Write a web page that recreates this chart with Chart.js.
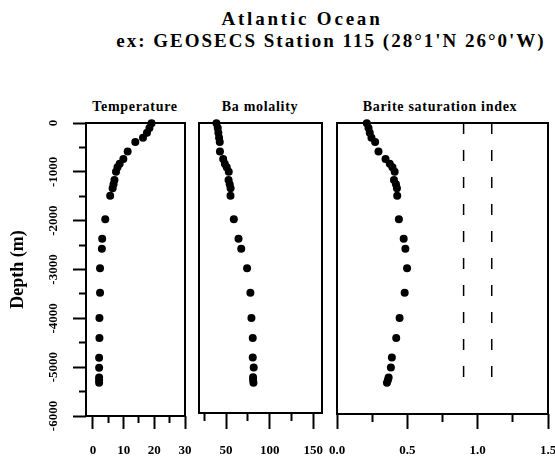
<!DOCTYPE html>
<html>
<head>
<meta charset="utf-8">
<script src="https://cdn.jsdelivr.net/npm/chart.js@4.4.1/dist/chart.umd.min.js"></script>
<style>
  html, body { margin: 0; padding: 0; background: #fff; }
  #page { position: relative; width: 555px; height: 457px; overflow: hidden;
          font-family: 'Liberation Serif', 'Times New Roman', serif; font-weight: bold; color: #000; }
  .txt { position: absolute; white-space: nowrap; text-align: center; }
  canvas { position: absolute; }
</style>
</head>
<body>
<div id="page">
  <div class="txt" style="left:102px;top:9px;width:400px;font-size:19px;line-height:19px;letter-spacing:2.8px">Atlantic Ocean</div>
  <div class="txt" style="left:31px;top:31px;width:600px;font-size:19px;line-height:19px;letter-spacing:2px">ex: GEOSECS Station 115 (28°1'N 26°0'W)</div>
  <div class="txt" style="left:35px;top:100px;width:200px;font-size:14px;line-height:14px;letter-spacing:0.7px">Temperature</div>
  <div class="txt" style="left:160px;top:100px;width:200px;font-size:14px;line-height:14px;letter-spacing:0.7px">Ba molality</div>
  <div class="txt" style="left:340px;top:100px;width:200px;font-size:14px;line-height:14px;letter-spacing:0.7px">Barite saturation index</div>
  <canvas id="cTemp" width="230" height="362" style="left:0px;top:100px"></canvas>
  <canvas id="cBa" width="180" height="362" style="left:170px;top:100px"></canvas>
  <canvas id="cSi" width="280" height="362" style="left:300px;top:100px"></canvas>
</div>
<script>
// sample depths (m), shared by the three profiles
const depth = [-5, -100, -200, -300, -390, -585, -735, -835, -905, -1000, -1165, -1255, -1335, -1490,
               -1970, -2370, -2575, -2975, -3475, -3995, -4405, -4805, -5010, -5210, -5265, -5320];
const temperature = [19.1, 18.4, 17.6, 16.3, 13.8, 11.3, 9.9, 8.7, 8.0, 7.5, 7.0, 6.7, 6.4, 5.6,
                     4.0, 3.0, 2.9, 2.3, 2.3, 2.1, 2.1, 2.0, 2.0, 2.0, 2.0, 2.0];
const baMolality = [39.0, 40.5, 41.2, 42.0, 42.8, 43.0, 46.7, 48.6, 50.8, 53.1, 52.9, 54.2, 55.2, 55.1,
                    58.9, 64.3, 67.4, 74.1, 77.9, 79.1, 80.6, 80.6, 81.7, 81.0, 81.0, 81.4];
const bariteSI = [0.212, 0.224, 0.233, 0.245, 0.271, 0.295, 0.345, 0.375, 0.394, 0.410, 0.405, 0.419, 0.426, 0.428,
                  0.440, 0.474, 0.486, 0.498, 0.481, 0.445, 0.421, 0.390, 0.383, 0.367, 0.362, 0.355];
// dashed saturation band
const saturationBounds = [0.9, 1.1];
const boundDepths = [0, -5300];

const depthTicks = [0, -500, -1000, -1500, -2000, -2500, -3000, -3500, -4000, -4500, -5000, -5500, -6000];
const depthLabels = [0, -1000, -2000, -3000, -4000, -5000, -6000];
const tempTicks = [0, 5, 10, 15, 20, 25, 30];
const tempLabels = [0, 10, 20, 30];
const baTicks = [25, 50, 75, 100, 125, 150];
const baLabels = [50, 100, 150];
const siTicks = [0, 0.25, 0.5, 0.75, 1, 1.25, 1.5];
const siLabels = [0, 0.5, 1, 1.5];

const family = "'Liberation Serif', 'Times New Roman', serif";
const tickFont = { family, size: 13, weight: 'bold' };

const framePlugin = {
    id: 'frame',
    beforeDatasetsDraw(chart) {
        const { ctx, chartArea: a } = chart;
        ctx.save();
        ctx.strokeStyle = '#000';
        ctx.lineWidth = 2;
        ctx.strokeRect(a.left, a.top, a.right - a.left, a.bottom - a.top);
        ctx.restore();
    }
};

function xAxis(min, max, ticks, labels, fmt, tickLen, minorLen) {
    return {
        type: 'linear', min, max,
        afterBuildTicks: s => { s.ticks = ticks.map(v => ({ value: v })); },
        afterFit: s => { s.height = 46; },
        border: { display: false },
        grid: {
            drawOnChartArea: false, tickLength: tickLen, tickWidth: 2, tickColor: '#000',
            tickBorderDash: c => labels.includes(c.tick.value) ? [] : [minorLen, 100]
        },
        ticks: {
            autoSkip: false, maxRotation: 0, padding: 14, color: '#000', font: tickFont,
            callback: v => labels.includes(v) ? fmt(v) : ''
        }
    };
}

function points(xs) {
    return xs.map((v, i) => ({ x: v, y: depth[i] }));
}

function dotSet(xs) {
    return {
        data: points(xs), pointRadius: 4, pointBackgroundColor: '#000',
        pointBorderWidth: 0, clip: false
    };
}

function makeChart(id, datasets, xScale, yScale, padding) {
    return new Chart(document.getElementById(id), {
        type: 'scatter',
        data: { datasets },
        options: {
            responsive: false, animation: false, events: [],
            layout: { padding },
            plugins: { legend: { display: false }, tooltip: { enabled: false } },
            scales: { x: xScale, y: yScale }
        },
        plugins: [framePlugin]
    });
}

makeChart('cTemp', [dotSet(temperature)],
    xAxis(-2.28, 30, tempTicks, tempLabels, v => String(v), 13, 7),
    {
        type: 'linear', min: -6000, max: 0,
        afterBuildTicks: s => { s.ticks = depthTicks.map(v => ({ value: v })); },
        afterFit: s => { s.width = 86; },
        border: { display: false },
        grid: {
            drawOnChartArea: false, tickLength: 13, tickWidth: 2, tickColor: '#000',
            tickBorderDash: c => depthLabels.includes(c.tick.value) ? [] : [0, 6, 7, 100]
        },
        ticks: {
            autoSkip: false, minRotation: 90, maxRotation: 90, crossAlign: 'center', padding: 4,
            color: '#000', font: tickFont,
            callback: v => depthLabels.includes(v) ? String(v) : ''
        },
        title: {
            display: true, text: 'Depth (m)', color: '#000',
            font: { family, size: 18, weight: 'bold' }, padding: { top: 8, bottom: 0 }
        }
    },
    { left: 0, right: 45, top: 23, bottom: 0 });

makeChart('cBa', [dotSet(baMolality)],
    xAxis(19, 160, baTicks, baLabels, v => String(v), 16, 8),
    { type: 'linear', min: -5940, max: 0, display: false },
    { left: 29, right: 28, top: 23, bottom: 3 });

const boundSets = saturationBounds.map(b => ({
    data: boundDepths.map(d => ({ x: b, y: d })),
    showLine: true, pointRadius: 0, borderColor: '#000', borderWidth: 1.5,
    borderDash: [11, 16], clip: false
}));

makeChart('cSi', [dotSet(bariteSI), ...boundSets],
    xAxis(0, 1.5, siTicks, siLabels, v => v.toFixed(1), 15, 8),
    { type: 'linear', min: -5960, max: 0, display: false },
    { left: 37, right: 32, top: 23, bottom: 2 });
</script>
</body>
</html>
